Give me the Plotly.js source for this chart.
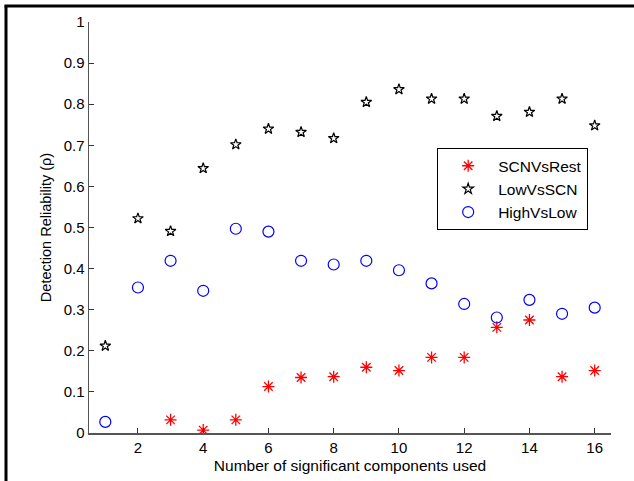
<!DOCTYPE html>
<html>
<head>
<meta charset="utf-8">
<script src="https://cdn.plot.ly/plotly-3.0.1.min.js"></script>
<style>html,body{margin:0;padding:0;background:#fff;} #chart{width:634px;height:481px;}</style>
</head>
<body>
<div id="chart"></div>
<script>
const components = [1,2,3,4,5,6,7,8,9,10,11,12,13,14,15,16];
const scnVsRest = [null,null,0.032,0.007,0.032,0.113,0.135,0.137,0.160,0.152,0.184,0.184,0.257,0.275,0.137,0.152];
const lowVsSCN  = [0.212,0.522,0.491,0.644,0.702,0.740,0.732,0.717,0.805,0.836,0.813,0.813,0.771,0.781,0.813,0.748];
const highVsLow = [0.027,0.354,0.419,0.346,0.497,0.490,0.419,0.410,0.419,0.396,0.364,0.314,0.281,0.324,0.290,0.305];
const xTicks = [2,4,6,8,10,12,14,16];
const yTicks = [0,0.1,0.2,0.3,0.4,0.5,0.6,0.7,0.8,0.9,1];

const font = "Arial, 'Liberation Sans', sans-serif";
const traces = [
  {x: components, y: scnVsRest, name: 'SCNVsRest', mode: 'markers', type: 'scatter',
   marker: {symbol: 'asterisk-open', size: 10, color: '#ff0000', line: {color: '#ff0000', width: 1.3}}},
  {x: components, y: lowVsSCN, name: 'LowVsSCN', mode: 'markers', type: 'scatter',
   marker: {symbol: 'star-open', size: 8, color: '#000', line: {color: '#000', width: 1.2}}},
  {x: components, y: highVsLow, name: 'HighVsLow', mode: 'markers', type: 'scatter',
   marker: {symbol: 'circle-open', size: 11, color: '#0000ff', line: {color: '#0000ff', width: 1.2}}}
];
const layout = {
  width: 634, height: 481,
  margin: {l: 89, r: 23, t: 22, b: 48},
  paper_bgcolor: '#fff', plot_bgcolor: '#fff',
  font: {family: font, size: 15, color: '#000'},
  showlegend: true,
  legend: {x: 0.667, y: 0.693, xanchor: 'left', yanchor: 'top', itemwidth: 50,
           bordercolor: '#000', borderwidth: 1, bgcolor: '#fff',
           font: {family: font, size: 15.5, color: '#000'}, tracegroupgap: 0},
  xaxis: {range: [0.5, 16.5], tickvals: xTicks, ticks: 'inside', ticklen: 5, tickcolor: '#333',
          showline: true, linecolor: '#555', linewidth: 1.5, showgrid: false, zeroline: false,
          tickfont: {family: font, size: 15, color: '#000'},
          title: {text: 'Number of significant components used', font: {family: font, size: 15.5, color: '#000'}, standoff: 5}},
  yaxis: {range: [0, 1], tickvals: yTicks, ticks: 'inside', ticklen: 5, tickcolor: '#333',
          showline: true, linecolor: '#555', linewidth: 1.5, showgrid: false, zeroline: false,
          tickfont: {family: font, size: 15, color: '#000'},
          title: {text: 'Detection Reliability (ρ)', font: {family: font, size: 14.5, color: '#000'}, standoff: 8}},
  shapes: [
    {type: 'line', xref: 'paper', yref: 'paper', x0: -0.159, x1: -0.159, y0: 1.039, y1: -0.2, line: {color: '#000', width: 3}},
    {type: 'line', xref: 'paper', yref: 'paper', x0: -0.162, x1: 1.1, y0: 1.039, y1: 1.039, line: {color: '#000', width: 3}}
  ]
};
Plotly.newPlot('chart', traces, layout, {displayModeBar: false, staticPlot: true});
</script>
</body>
</html>
